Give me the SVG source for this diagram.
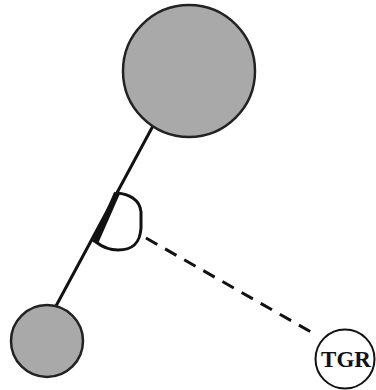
<svg xmlns="http://www.w3.org/2000/svg" width="376" height="390" viewBox="0 0 376 390">
<style>
.ball{fill:#a9a9a9;stroke:#222;stroke-width:2.5}
.line{stroke:#111;stroke-width:3;fill:none}
</style>
<rect width="376" height="390" fill="#fff"/>
<g id="connectors">
<line class="line" x1="154" y1="124" x2="56" y2="306"/>
<line x1="117" y1="193" x2="95" y2="243" stroke="#111" stroke-width="6"/>
<path class="line" d="M117,193 C128,194 140,199 141,212 L141,228 C140,244 132,250 118,250 C108,250 101,246 96,242"/>
<line x1="146" y1="238" x2="318" y2="336" stroke="#111" stroke-width="3" stroke-dasharray="13,9"/>
</g>
<g id="big"><circle class="ball" cx="189" cy="71" r="66"/></g>
<g id="small"><circle class="ball" cx="47" cy="341" r="36"/></g>
<g id="tgr">
<circle cx="345" cy="359" r="29.5" fill="#fff" stroke="#111" stroke-width="2"/>
<text x="346" y="367" text-anchor="middle" font-family="Liberation Serif, serif" font-weight="bold" font-size="23" fill="#111">TGR</text>
</g>
</svg>
